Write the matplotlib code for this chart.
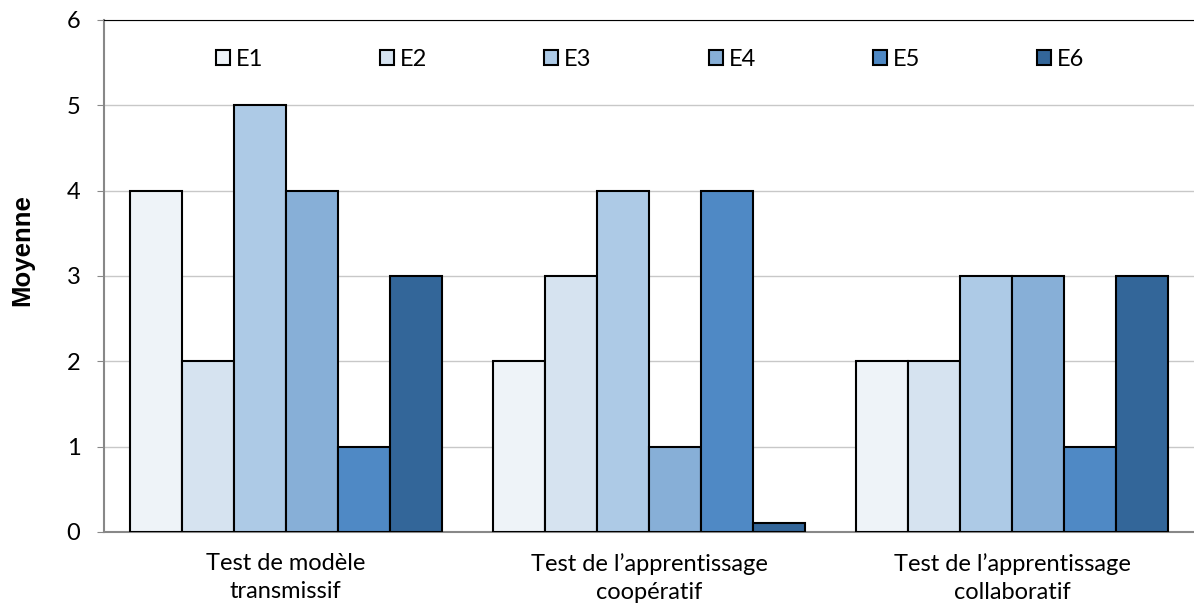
import numpy as np
import matplotlib
matplotlib.use('Agg')
import matplotlib.pyplot as plt

categories = ['Test de modèle\ntransmissif',
              'Test de l\u2019apprentissage\ncoopératif',
              'Test de l\u2019apprentissage\ncollaboratif']
series = ['E1', 'E2', 'E3', 'E4', 'E5', 'E6']
values = [
    [4, 2, 2],    # E1
    [2, 3, 2],    # E2
    [5, 4, 3],    # E3
    [4, 1, 3],    # E4
    [1, 4, 1],    # E5
    [3, 0.1, 3],  # E6
]
colors = ['#EEF3F8', '#D6E3F0', '#ADCAE6', '#87AFD7', '#4F89C5', '#336699']

plt.rcParams['font.family'] = ['Lato', 'DejaVu Sans']

fig = plt.figure(figsize=(11.94, 6.12), dpi=100)
ax = fig.add_axes([104/1194, 1 - 532/612, 1090/1194, 512/612])

x = np.arange(len(categories))
w = 0.143
for i, s in enumerate(series):
    ax.bar(x + (i - 2.5)*w, values[i], w, color=colors[i], edgecolor='black',
           linewidth=1.5, label=s, zorder=3)

ax.set_xlim(-0.5, 2.5)
ax.set_ylim(0, 6)
ax.set_yticks(range(7))
ax.yaxis.grid(True, color='#C8C8C8', linewidth=1, zorder=0)
ax.set_xticks(x)
ax.set_xticklabels(categories, fontsize=17, linespacing=1.45)
ax.tick_params(axis='x', length=0, pad=15)
ax.tick_params(axis='y', labelsize=17, length=5, color='#888888', pad=12)
ax.spines['right'].set_visible(False)
ax.spines['top'].set_color('black')
ax.spines['left'].set_color('#888888')
ax.spines['bottom'].set_color('#888888')
ax.spines['left'].set_linewidth(1.5)
ax.spines['bottom'].set_linewidth(1.5)

ax.set_ylabel('Moyenne', fontsize=18.5, fontweight='bold', family='Liberation Sans')
ax.yaxis.set_label_coords(-0.064, 0.55)

leg = ax.legend(loc='upper center', bbox_to_anchor=(0.501, 0.985), ncol=6, frameon=False,
                fontsize=17, handlelength=0.6, handleheight=0.6, handletextpad=0.25,
                columnspacing=4.95)

fig.savefig('out.png', dpi=100, facecolor='w')
plt.close()
